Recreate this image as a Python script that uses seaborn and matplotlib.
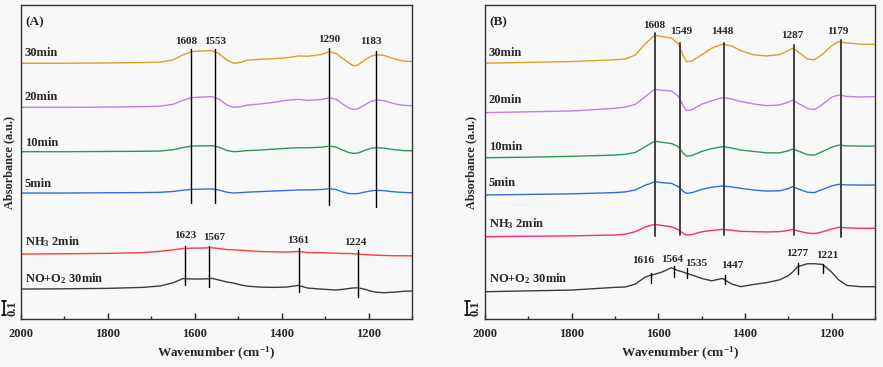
import numpy as np
import pandas as pd
import matplotlib
matplotlib.use("Agg")
import matplotlib.pyplot as plt
import matplotlib.transforms as mtrans
import seaborn as sns

# ---- data ----
labels = ["30min", "20min", "10min", "5min", "NH$_\\mathrm{3}$ 2min", "NO+O$_\\mathrm{2}$ 30min"]

wn_a = [2000, 1900, 1800, 1720, 1680, 1650, 1627, 1608, 1580, 1560, 1545, 1525, 1510, 1495, 1480, 1450, 1420,
        1390, 1361, 1340, 1310, 1290, 1275, 1260, 1245, 1235, 1224, 1210, 1195, 1183, 1165, 1140, 1120, 1100]
a_30 = [0, 0, 0.002, 0.005, 0.008, 0.024, 0.06, 0.083, 0.088, 0.09, 0.07, 0.02, 0.0, 0.005, 0.022, 0.028, 0.032,
        0.038, 0.052, 0.05, 0.062, 0.083, 0.07, 0.035, 0.002, -0.018, -0.012, 0.02, 0.05, 0.06, 0.056, 0.03, 0.015, 0.012]
a_20 = [0, 0, 0.002, 0.005, 0.008, 0.022, 0.05, 0.069, 0.074, 0.076, 0.06, 0.015, 0.0, 0.004, 0.015, 0.024, 0.035,
        0.05, 0.057, 0.05, 0.055, 0.069, 0.058, 0.025, -0.005, -0.014, -0.01, 0.015, 0.042, 0.052, 0.048, 0.025, 0.014, 0.012]
a_10 = [0, 0, 0.002, 0.003, 0.005, 0.014, 0.03, 0.04, 0.042, 0.043, 0.033, 0.008, 0.0, 0.003, 0.008, 0.012, 0.018,
        0.024, 0.029, 0.028, 0.032, 0.04, 0.033, 0.012, -0.006, -0.012, -0.009, 0.008, 0.024, 0.029, 0.026, 0.014, 0.008, 0.007]
a_5 = [0, 0, 0.002, 0.003, 0.005, 0.011, 0.02, 0.026, 0.028, 0.029, 0.022, 0.005, 0.0, 0.003, 0.006, 0.01, 0.014,
       0.018, 0.022, 0.022, 0.025, 0.031, 0.025, 0.008, -0.004, -0.005, -0.004, 0.006, 0.015, 0.019, 0.017, 0.008, 0.004, 0.002]
a_nh3 = [0, 0.002, 0.005, 0.01, 0.02, 0.03, 0.04, 0.042, 0.043, 0.045, 0.04, 0.032, 0.03, 0.027, 0.024, 0.018, 0.016,
         0.014, 0.018, 0.01, 0.01, 0.008, 0.006, 0.004, 0.004, 0.002, 0.0, -0.004, -0.006, -0.008, -0.01, -0.012, -0.012, -0.013]
a_no = [0, 0.002, 0.005, 0.012, 0.022, 0.045, 0.075, 0.072, 0.072, 0.076, 0.065, 0.05, 0.042, 0.03, 0.021, 0.014, 0.012,
        0.014, 0.026, 0.007, 0.0, -0.004, -0.007, -0.002, 0.004, 0.008, 0.009, 0.0, -0.015, -0.022, -0.026, -0.022, -0.016, -0.014]

wn_b = [2000, 1900, 1800, 1700, 1676, 1653, 1630, 1616, 1608, 1592, 1570, 1554, 1542, 1535, 1523, 1500, 1477,
        1452, 1431, 1410, 1380, 1350, 1320, 1300, 1290, 1279, 1256, 1240, 1221, 1200, 1184, 1165, 1134, 1100]
b_30 = [0, 0.006, 0.012, 0.025, 0.03, 0.06, 0.14, 0.18, 0.2, 0.19, 0.18, 0.14, 0.05, 0.012, 0.015, 0.06, 0.107,
        0.136, 0.124, 0.09, 0.06, 0.052, 0.062, 0.09, 0.107, 0.085, 0.03, 0.024, 0.065, 0.125, 0.155, 0.145, 0.136, 0.136]
b_20 = [0, 0.006, 0.012, 0.031, 0.04, 0.06, 0.114, 0.15, 0.167, 0.16, 0.155, 0.118, 0.045, 0.015, 0.02, 0.06, 0.085,
        0.107, 0.098, 0.08, 0.062, 0.05, 0.055, 0.075, 0.09, 0.07, 0.03, 0.022, 0.06, 0.11, 0.126, 0.116, 0.112, 0.114]
b_10 = [0, 0.004, 0.01, 0.019, 0.025, 0.038, 0.079, 0.105, 0.119, 0.11, 0.102, 0.08, 0.03, 0.012, 0.015, 0.045, 0.065,
        0.079, 0.07, 0.055, 0.045, 0.035, 0.035, 0.05, 0.062, 0.05, 0.022, 0.018, 0.045, 0.075, 0.09, 0.085, 0.083, 0.083]
b_5 = [0, 0.004, 0.008, 0.017, 0.022, 0.036, 0.07, 0.085, 0.095, 0.088, 0.083, 0.06, 0.025, 0.012, 0.016, 0.04, 0.055,
       0.064, 0.058, 0.048, 0.035, 0.028, 0.03, 0.045, 0.06, 0.045, 0.02, 0.017, 0.04, 0.065, 0.076, 0.072, 0.071, 0.071]
b_nh3 = [0, 0.003, 0.006, 0.012, 0.018, 0.036, 0.07, 0.082, 0.088, 0.08, 0.071, 0.05, 0.022, 0.012, 0.015, 0.035, 0.045,
         0.052, 0.046, 0.038, 0.036, 0.034, 0.036, 0.045, 0.052, 0.042, 0.026, 0.022, 0.035, 0.055, 0.067, 0.063, 0.06, 0.06]
b_no = [0, 0.006, 0.012, 0.031, 0.034, 0.055, 0.105, 0.119, 0.125, 0.14, 0.171, 0.15, 0.14, 0.131, 0.12, 0.095, 0.078,
        0.095, 0.055, 0.036, 0.052, 0.065, 0.085, 0.115, 0.14, 0.178, 0.2, 0.2, 0.195, 0.14, 0.085, 0.045, 0.036, 0.036]

# vertical stacking offsets and label heights
offs_a = [1.829, 1.514, 1.197, 0.902, 0.466, 0.216]
lab_y_a = [1.904, 1.586, 1.261, 0.966, 0.554, 0.293]
offs_b = [1.829, 1.476, 1.154, 0.888, 0.59, 0.197]
lab_y_b = [1.904, 1.566, 1.233, 0.971, 0.686, 0.293]

# peak markers: (wavenumber, line bottom, line top, label x, label y)
peaks_a_top = [(1608, 0.83, 1.93, 1619, 1.983), (1553, 0.83, 1.93, 1553, 1.983),
               (1290, 0.82, 1.94, 1290, 2.0), (1183, 0.80, 1.92, 1195, 1.983)]
peaks_a_low = [(1623, 0.245, 0.524, 1621, 0.595), (1567, 0.233, 0.524, 1556, 0.586),
               (1361, 0.197, 0.506, 1361, 0.561), (1224, 0.157, 0.494, 1230, 0.55)]
peaks_b_top = [(1608, 0.595, 2.043, 1610, 2.102), (1549, 0.602, 1.976, 1548, 2.054),
               (1448, 0.602, 1.976, 1452, 2.054), (1287, 0.602, 1.959, 1292, 2.024),
               (1179, 0.59, 1.995, 1186, 2.054)]
peaks_b_low = [(1616, 0.259, 0.331, 1636, 0.419), (1564, 0.304, 0.381, 1568, 0.424),
               (1535, 0.293, 0.364, 1512, 0.395), (1447, 0.252, 0.316, 1429, 0.383),
               (1277, 0.324, 0.40, 1279, 0.471), (1221, 0.333, 0.395, 1210, 0.459)]

colors_a = ["#DE9E28", "#BF82DE", "#2A9A5C", "#2F6FD8", "#FF3C3C", "#3C3C3C"]
colors_b = ["#DE9E28", "#BF82DE", "#2A9A5C", "#2F6FD8", "#FF2B6E", "#3C3C3C"]

sns.set_style("ticks")
plt.rcParams["font.family"] = ["Liberation Serif", "DejaVu Serif"]
plt.rcParams["font.weight"] = "bold"
plt.rcParams["mathtext.fontset"] = "custom"
plt.rcParams["mathtext.rm"] = "Liberation Serif:bold"
plt.rcParams["mathtext.bf"] = "Liberation Serif:bold"
plt.rcParams["mathtext.default"] = "rm"

bg = "#F8F8F8"
fig = plt.figure(figsize=(8.83, 3.67), dpi=100, facecolor=bg)
ax_a = fig.add_axes([21 / 883, 47.7 / 367, 391 / 883, 314.3 / 367])
ax_b = fig.add_axes([485 / 883, 47.7 / 367, 390 / 883, 314.3 / 367])


def draw_panel(ax, wn, series, offs, lab_y, colors, top, low, tag, ylab_x, bar_x, bar_tx, mark_col, mark_lw):
    frames = []
    for name, vals, off in zip(labels, series, offs):
        frames.append(pd.DataFrame({"wn": wn, "abs": np.array(vals) + off, "sample": name}))
    df = pd.concat(frames, ignore_index=True)
    sns.lineplot(data=df, x="wn", y="abs", hue="sample", palette=dict(zip(labels, colors)),
                 linewidth=1.0, legend=False, ax=ax)
    ax.set_facecolor(bg)
    ax.set_xlim(2000, 1100)
    ax.set_ylim(0, 2.245)
    ax.set_yticks([])
    ax.set_xticks([2000, 1800, 1600, 1400, 1200])
    ax.set_xticks([1900, 1700, 1500, 1300, 1100], minor=True)
    ax.tick_params(axis="x", direction="in", length=4, width=1, labelsize=9, pad=6)
    ax.tick_params(axis="x", which="minor", direction="in", length=2.5, width=1)
    for s in ax.spines.values():
        s.set_linewidth(1.0)
        s.set_color("#333333")
    ax.set_xlabel("Wavenumber (cm$^{\\mathrm{-1}}$)", fontsize=9.5, fontweight="bold", labelpad=4)
    ax.set_ylabel("Absorbance (a.u.)", fontsize=8.8, fontweight="bold")
    ax.yaxis.set_label_coords(ylab_x, 0.5)

    for name, y in zip(labels, lab_y):
        ax.text(1991, y, name, fontsize=9, fontweight="bold", ha="left", va="center")
    ax.text(1991, 2.12, tag, fontsize=9.5, fontweight="bold", ha="left", va="center")

    for w, y0, y1, lx, ly in top:
        ax.plot([w, w], [y0, y1], color=mark_col, lw=mark_lw)
        ax.text(lx, ly, str(w), fontsize=8, fontweight="bold", ha="center", va="center")
    for w, y0, y1, lx, ly in low:
        ax.plot([w, w], [y0, y1], color="black", lw=1.0)
        ax.text(lx, ly, str(w), fontsize=8, fontweight="bold", ha="center", va="center")

    # 0.1 scale bar left of the axis
    tr = mtrans.blended_transform_factory(ax.transAxes, ax.transData)
    ax.plot([bar_x, bar_x], [0.03, 0.13], color="black", lw=1.2, transform=tr, clip_on=False)
    for yy in (0.03, 0.13):
        ax.plot([bar_x - 0.006, bar_x + 0.006], [yy, yy], color="black", lw=1.2, transform=tr, clip_on=False)
    ax.text(bar_tx, 0.08, "0.1", rotation=90, fontsize=9, fontweight="bold",
            ha="center", va="center", transform=tr)


draw_panel(ax_a, wn_a, [a_30, a_20, a_10, a_5, a_nh3, a_no], offs_a, lab_y_a, colors_a,
           peaks_a_top, peaks_a_low, "(A)", -0.0141, -0.0435, -0.0212, "black", 1.0)
draw_panel(ax_b, wn_b, [b_30, b_20, b_10, b_5, b_nh3, b_no], offs_b, lab_y_b, colors_b,
           peaks_b_top, peaks_b_low, "(B)", -0.019, -0.0454, -0.0256, "#404040", 1.4)

fig.savefig("out.png", dpi=100, facecolor=bg)
